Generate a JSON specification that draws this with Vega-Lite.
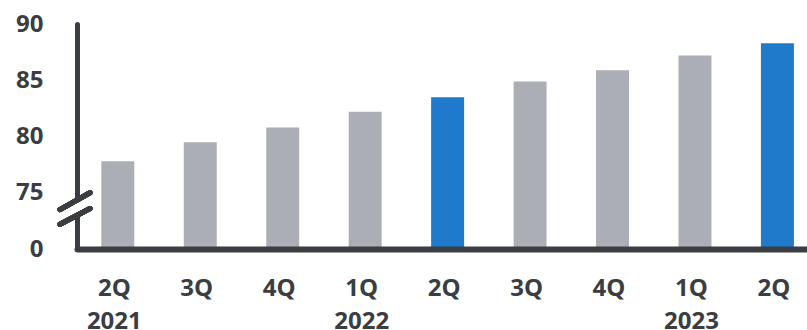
{
  "$schema": "https://vega.github.io/schema/vega-lite/v6.json",
  "width": 730,
  "height": 225,
  "autosize": {"type": "none"},
  "padding": {"left": 77, "top": 24, "right": 0, "bottom": 81},
  "background": "#ffffff",
  "config": {
    "view": {"stroke": null},
    "font": "Open Sans",
    "axis": {
      "labelFont": "Open Sans",
      "labelFontSize": 24,
      "labelFontWeight": "bold",
      "labelColor": "#3a3d42",
      "domainColor": "#3a3d42",
      "grid": false,
      "ticks": false,
      "tickSize": 0,
      "title": null
    }
  },
  "data": {
    "values": [
      {"period": "2Q 2021", "value": 77.8, "highlight": "no"},
      {"period": "3Q 2021", "value": 79.5, "highlight": "no"},
      {"period": "4Q 2021", "value": 80.8, "highlight": "no"},
      {"period": "1Q 2022", "value": 82.2, "highlight": "no"},
      {"period": "2Q 2022", "value": 83.5, "highlight": "yes"},
      {"period": "3Q 2022", "value": 84.9, "highlight": "no"},
      {"period": "4Q 2022", "value": 85.9, "highlight": "no"},
      {"period": "1Q 2023", "value": 87.2, "highlight": "no"},
      {"period": "2Q 2023", "value": 88.3, "highlight": "yes"}
    ]
  },
  "layer": [
    {
      "mark": {"type": "bar"},
      "encoding": {
        "x": {
          "field": "period",
          "type": "nominal",
          "sort": null,
          "scale": {"paddingInner": 0.6, "paddingOuter": 0.227, "align": 0.65},
          "axis": {
            "labelAngle": 0,
            "labelPadding": 27.5,
            "labelLineHeight": 33.4,
            "labelOffset": -3.5,
            "domainWidth": 6,
            "domainCap": "round",
            "zindex": 1,
            "labelExpr": "(datum.index == 0 || substring(datum.label, 0, 2) == '1Q') ? split(datum.label, ' ') : substring(datum.label, 0, 2)"
          }
        },
        "y": {
          "field": "value",
          "type": "quantitative",
          "scale": {"domain": [70, 90], "zero": false, "clamp": true, "nice": false},
          "axis": {
            "values": [70, 75, 80, 85, 90],
            "labelPadding": 34,
            "domainWidth": 5,
            "domainCap": "round",
            "zindex": 0,
            "labelExpr": "datum.value == 70 ? '0' : datum.label"
          }
        },
        "color": {
          "field": "highlight",
          "type": "nominal",
          "scale": {"domain": ["no", "yes"], "range": ["#abaeb5", "#1f7acb"]},
          "legend": null
        }
      }
    },
    {
      "mark": {"type": "rule", "color": "#ffffff", "strokeWidth": 9, "strokeCap": "butt"},
      "encoding": {
        "x": {"value": 0},
        "y": {"datum": 73.2},
        "y2": {"datum": 74.2}
      }
    },
    {
      "mark": {"type": "rule", "color": "#3a3d42", "strokeWidth": 5, "strokeCap": "round"},
      "encoding": {
        "x": {"value": -17},
        "x2": {"value": 13},
        "y": {"datum": 73.5},
        "y2": {"datum": 75.0}
      }
    },
    {
      "mark": {"type": "rule", "color": "#3a3d42", "strokeWidth": 5, "strokeCap": "round"},
      "encoding": {
        "x": {"value": -17},
        "x2": {"value": 13},
        "y": {"datum": 72.2},
        "y2": {"datum": 73.6}
      }
    }
  ]
}
